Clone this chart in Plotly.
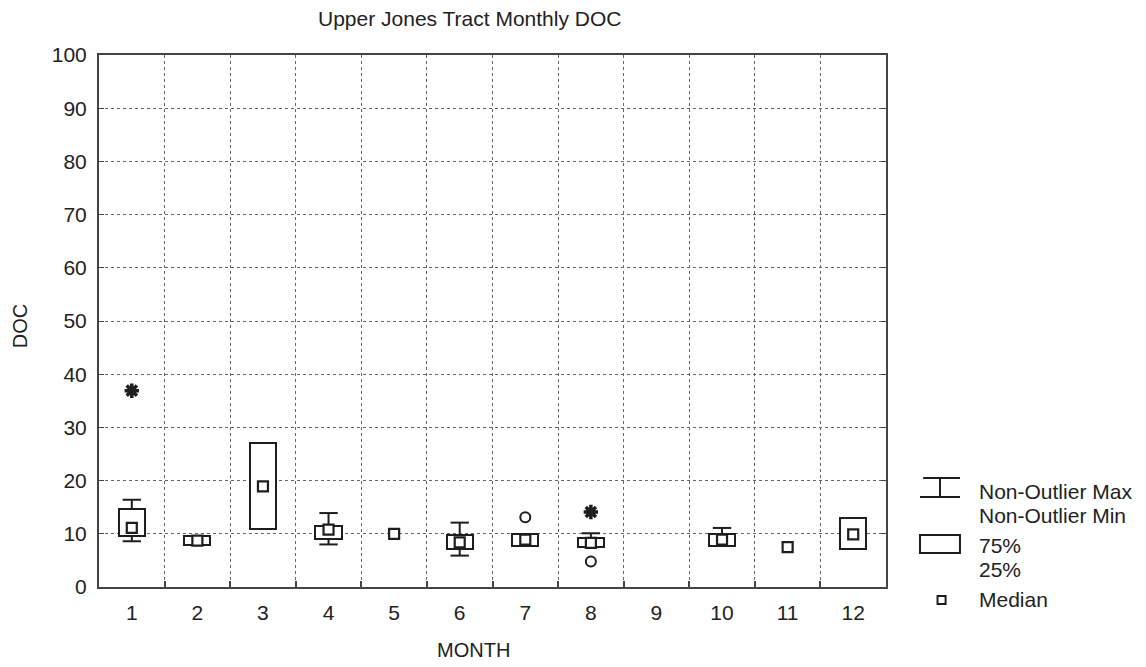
import plotly.graph_objects as go

# ---- data ----
months = [1, 2, 3, 4, 5, 6, 7, 8, 9, 10, 11, 12]
month_labels = ["1", "2", "3", "4", "5", "6", "7", "8", "9", "10", "11", "12"]
nonoutlier_max = [16.4, None, None, 13.9, None, 12.1, None, 10.1, None, 11.1, None, None]
q75 = [14.7, 9.6, 27.0, 11.4, None, 9.7, 10.0, 9.2, None, 9.9, None, 12.9]
medians = [11.1, 8.7, 18.9, 10.8, 10.0, 8.4, 8.9, 8.3, None, 8.9, 7.5, 9.9]
q25 = [9.6, 7.9, 10.9, 9.0, None, 7.2, 7.8, 7.5, None, 7.8, None, 7.1]
nonoutlier_min = [8.6, None, None, 8.0, None, 5.9, None, None, None, None, None, None]
outlier_months = [7, 8]
outlier_values = [13.1, 4.8]
extreme_months = [1, 8]
extreme_values = [36.9, 14.1]
y_ticks = [0, 10, 20, 30, 40, 50, 60, 70, 80, 90, 100]

INK = "#1e1e1e"
FONT = "Liberation Sans, Arial, sans-serif"
BOX_W = 0.40
CAP_HW = 0.14

fig = go.Figure()

# boxes (25%-75%)
bx, bbase, bh = [], [], []
for m, lo, hi in zip(months, q25, q75):
    if lo is not None and hi is not None:
        bx.append(m); bbase.append(lo); bh.append(hi - lo)
fig.add_trace(go.Bar(x=bx, y=bh, base=bbase, width=BOX_W,
                     marker=dict(color="white", line=dict(color=INK, width=2)),
                     showlegend=False, hoverinfo="skip"))

# whiskers
wx, wy = [], []
for m, hi, mx in zip(months, q75, nonoutlier_max):
    if mx is not None:
        wx += [m, m, None, m - CAP_HW, m + CAP_HW, None]
        wy += [hi, mx, None, mx, mx, None]
for m, lo, mn in zip(months, q25, nonoutlier_min):
    if mn is not None:
        wx += [m, m, None, m - CAP_HW, m + CAP_HW, None]
        wy += [lo, mn, None, mn, mn, None]
fig.add_trace(go.Scatter(x=wx, y=wy, mode="lines", line=dict(color=INK, width=2),
                         showlegend=False, hoverinfo="skip"))

# medians
fig.add_trace(go.Scatter(x=months, y=medians, mode="markers",
                         marker=dict(symbol="square", size=10, color="white",
                                     line=dict(color=INK, width=2.2)),
                         showlegend=False))

# outliers
fig.add_trace(go.Scatter(x=outlier_months, y=outlier_values, mode="markers",
                         marker=dict(symbol="circle-open", size=10, color=INK,
                                     line=dict(color=INK, width=2)),
                         showlegend=False))

# extremes
fig.add_trace(go.Scatter(x=extreme_months, y=extreme_values, mode="markers",
                         marker=dict(symbol="asterisk-open", size=12, color=INK,
                                     line=dict(color=INK, width=3.5)),
                         showlegend=False))

grid = dict(gridcolor="#666", griddash="dot", gridwidth=1)

fig.update_layout(
    width=1146, height=667,
    margin=dict(l=91, r=268, t=47, b=88),
    paper_bgcolor="white", plot_bgcolor="white",
    font=dict(family=FONT, size=21, color="#222"),
    bargap=0,
    xaxis=dict(range=[0.5, 12.5], tickmode="array", tickvals=months, ticktext=month_labels,
               showgrid=False, zeroline=False, showline=True, mirror=True,
               linecolor="#444", linewidth=2, ticks="",
               tickfont=dict(size=21), ticklabelstandoff=6,
               minor=dict(tickmode="array",
                          tickvals=[m + 0.5 for m in months[:-1]],
                          showgrid=True, ticks="inside", ticklen=6,
                          tickcolor="#444", tickwidth=1.5, **grid)),
    yaxis=dict(range=[0, 100], tickmode="array", tickvals=y_ticks,
               showgrid=True, zeroline=False, showline=True, mirror="ticks",
               linecolor="#444", linewidth=2, ticks="inside", ticklen=5,
               tickcolor="#444", tickfont=dict(size=21), ticklabelstandoff=6, **grid),
)

annotations = [
    dict(text="Upper Jones Tract Monthly DOC", x=0.471, y=1.0695, xref="paper", yref="paper",
         showarrow=False, xanchor="center", yanchor="middle", font=dict(size=21)),
    dict(text="DOC", x=-0.1004, y=0.49, xref="paper", yref="paper", textangle=-90,
         showarrow=False, xanchor="center", yanchor="middle", font=dict(size=20)),
    dict(text="MONTH", x=0.476, y=-0.118, xref="paper", yref="paper",
         showarrow=False, xanchor="center", yanchor="middle", font=dict(size=20)),
]
legend_lines = [("Non-Outlier Max", 0.1786), ("Non-Outlier Min", 0.1353),
                ("75%", 0.0789), ("25%", 0.032), ("Median", -0.0244)]
for txt, yy in legend_lines:
    annotations.append(dict(text=txt, x=1.1156, y=yy, xref="paper", yref="paper",
                            showarrow=False, xanchor="left", yanchor="middle",
                            font=dict(size=21)))
fig.update_layout(annotations=annotations)

lx0, lx1, lxm = 1.0432, 1.094, 1.0686
shapes = [
    dict(type="line", xref="paper", yref="paper", x0=lx0 + 0.004, x1=lx1, y0=0.2049, y1=0.2049,
         line=dict(color=INK, width=2)),
    dict(type="line", xref="paper", yref="paper", x0=lxm, x1=lxm, y0=0.2049, y1=0.1692,
         line=dict(color=INK, width=2)),
    dict(type="line", xref="paper", yref="paper", x0=lx0, x1=lx1, y0=0.1692, y1=0.1692,
         line=dict(color=INK, width=2)),
    dict(type="rect", xref="paper", yref="paper", x0=lx0, x1=lx1, y0=0.0639, y1=0.0977,
         line=dict(color=INK, width=2), fillcolor="white"),
    dict(type="rect", xref="paper", yref="paper", x0=1.0655, x1=1.0757, y0=-0.032, y1=-0.0169,
         line=dict(color=INK, width=2), fillcolor="white"),
]
fig.update_layout(shapes=shapes)

fig.write_html("out.html")
